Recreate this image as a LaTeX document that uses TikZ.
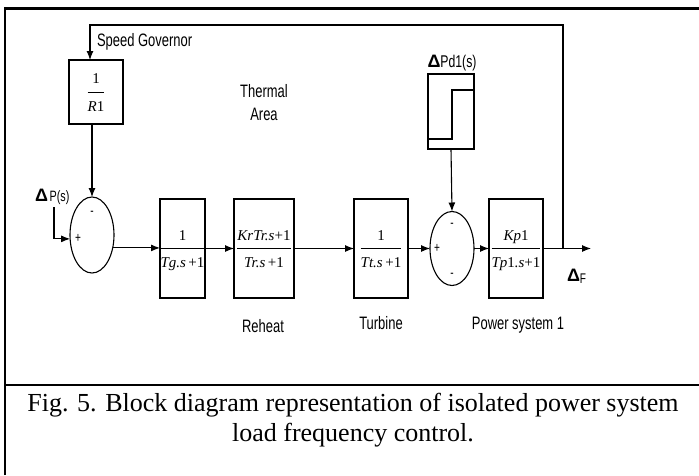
\documentclass[tikz,border=0pt]{standalone}
\usepackage{fontspec}
\setmainfont{Liberation Serif}
\newfontfamily\lblfont[FakeStretch=0.72]{Liberation Sans}
\newfontfamily\dltfont{Liberation Sans}
\usetikzlibrary{shapes.geometric,arrows.meta,calc}

\setlength{\arrayrulewidth}{0.8pt}
\newcommand{\blkfr}[2]{{\renewcommand{\arraystretch}{1.8}%
  \begin{tabular}{@{}c@{}}#1\\\hline #2\end{tabular}}}

\begin{document}
\begin{tikzpicture}[y=-1pt, x=1pt, inner sep=0pt, outer sep=0pt,
  blk/.style={draw=black,line width=1.1pt,minimum width=54pt,minimum height=99pt,
    font=\fontsize{15}{15}\selectfont},
  sumj/.style={draw=black,line width=1.1pt,ellipse,minimum width=44pt,minimum height=76pt},
  arr/.style={draw=black,line width=1.1pt,-{Latex[length=9pt,width=7pt]}},
  lbl/.style={font=\lblfont\fontsize{18}{18}\selectfont,anchor=base},
  sgn/.style={font=\lblfont\fontsize{14}{14}\selectfont}]
  \useasboundingbox (0,0) rectangle (699,475);

  % frame of the figure
  \path[draw=black,line width=2.8pt] (5,475) -- (5,8.5) -- (699,8.5);
  \path[draw=black,line width=2.8pt] (5,385) -- (699,385);

  % blocks
  \node[blk,minimum height=64pt] (gov) at (96,92) {\blkfr{1}{\textit{R}1}};
  \node[sumj] (sum1) at (92,235) {};
  \node[blk,minimum width=45pt] (tg) at (182.5,248.5) {\blkfr{1}{\textit{Tg.s}\,+1}};
  \node[blk,minimum width=60pt] (kr) at (264,248.5) {\blkfr{\textit{KrTr.s}+1}{\textit{Tr.s}\,+1}};
  \node[blk] (tt) at (381,248.5) {\blkfr{1}{\textit{Tt.s}\,+1}};
  \node[sumj,minimum height=74pt] (sum2) at (452,248.5) {};
  \node[blk] (kp) at (516,248.5) {\blkfr{\textit{Kp}1}{\textit{Tp}1\textit{.s}+1}};
  \node[draw=black,line width=1.1pt,minimum width=46pt,minimum height=75pt] (step) at (451,111.5) {};
  \path[draw=black,line width=1.1pt] ($(step.south west)+(0,-10)$) -- ($(step.south)+(1,-10)$)
    -- ($(step.north)+(1,16)$) -- ($(step.north east)+(0,16)$);

  % signs
  \node[sgn] (s1a) at ($(sum1)+(0,-22)$) {-};
  \node[sgn] (s1b) at ($(sum1)+(-14,3)$) {+};
  \node[sgn] (s2a) at ($(sum2)+(0,-23)$) {-};
  \node[sgn] (s2b) at ($(sum2)+(-15,0)$) {+};
  \node[sgn] (s2c) at ($(sum2)+(0,27)$) {-};

  % connectors
  \coordinate (pin) at (54,207);
  \coordinate (branch) at (563,248.5);
  \coordinate (out) at (591,248.5);
  \coordinate (govin) at ($(gov.north)+(-6,0)$);
  \path[arr] (pin) |- (sum1.190);
  \path[arr] (gov.south -| sum1.north) -- (sum1.north);
  \path[arr] (sum1.-32) -- (sum1.-32 -| tg.west);
  \path[arr] (tg) -- (kr);
  \path[arr] (kr) -- (tt);
  \path[arr] (tt) -- (sum2);
  \path[arr] (sum2) -- (kp);
  \path[arr] (kp.east) -- (out);
  \path[arr] (step.south) -- (sum2.north);
  \path[arr] (branch) -- (branch |- 0,25) -| (govin);

  % labels
  \node[lbl,anchor=base west] (tgov) at (97,46) {Speed Governor};
  \node[lbl] (tthm) at (264,97) {Thermal};
  \node[lbl] (tarea) at (264,120) {Area};
  \node[lbl] (trh) at (263,332) {Reheat};
  \node[lbl] (ttb) at (381,329) {Turbine};
  \node[lbl] (tps) at (518,329) {Power system 1};
  \node[anchor=base west] (tdp) at (35,201)
    {{\dltfont\bfseries\fontsize{18}{18}\selectfont Δ}\,{\lblfont\fontsize{15}{15}\selectfont P(s)}};
  \node[anchor=base] (tdpd) at (452,67)
    {{\dltfont\bfseries\fontsize{18}{18}\selectfont Δ}{\lblfont\fontsize{17}{17}\selectfont Pd1(s)}};
  \node[anchor=base west] (tdf) at (567,281)
    {{\dltfont\bfseries\fontsize{18}{18}\selectfont Δ}\raisebox{-2pt}{\lblfont\fontsize{14}{14}\selectfont F}};

  % caption
  \node[anchor=base,font=\fontsize{26}{30}\selectfont] (cap1) at (353,411)
    {Fig. 5. Block diagram representation of isolated power system};
  \node[anchor=base,font=\fontsize{26}{30}\selectfont] (cap2) at (353,441)
    {load frequency control.};
\end{tikzpicture}
\end{document}
